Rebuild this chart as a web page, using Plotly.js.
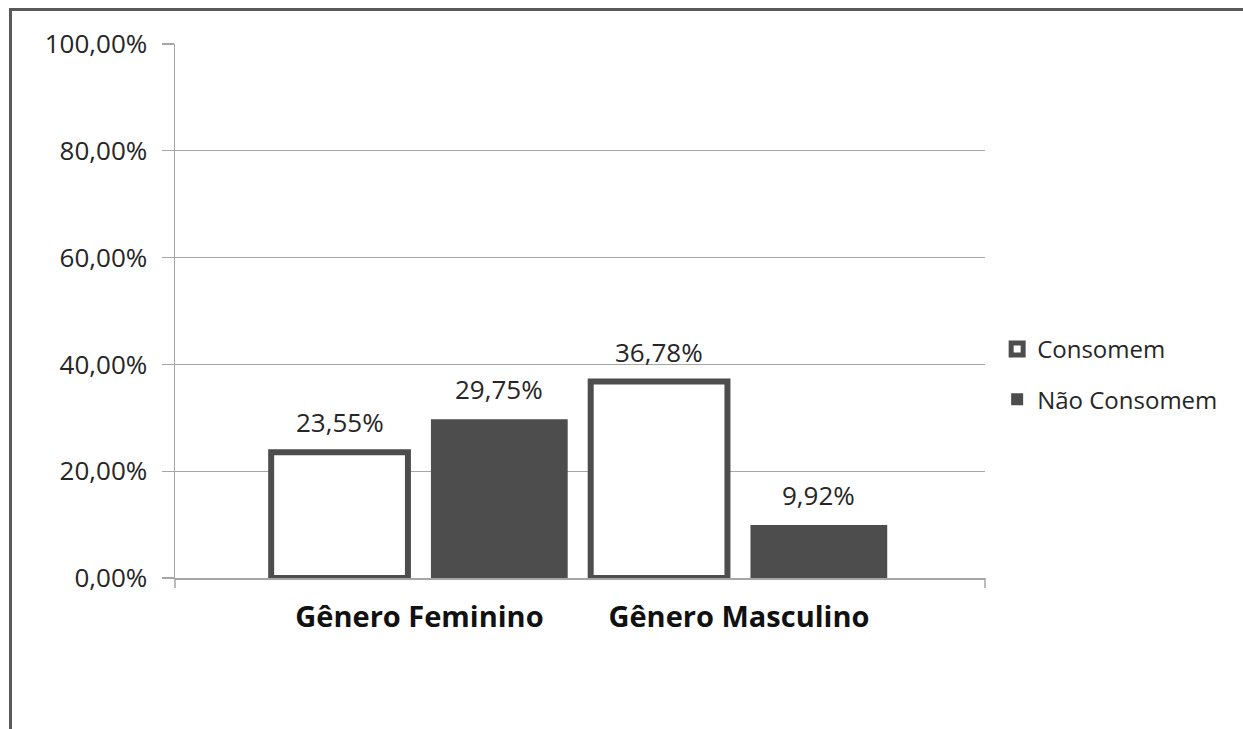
<!DOCTYPE html>
<html>
<head>
<meta charset="utf-8">
<script src="https://cdn.plot.ly/plotly-3.0.1.min.js"></script>
<style>
  html, body { margin: 0; padding: 0; background: #fff; overflow: hidden; }
  #wrap { position: relative; width: 1243px; height: 729px; overflow: hidden; }
  #chart { width: 1243px; height: 729px; }
  #frame { position: absolute; left: 9px; top: 8px; width: 1240px; height: 730px;
           border-left: 3px solid #5a5a5a; border-top: 3px solid #5a5a5a; pointer-events: none; }
</style>
</head>
<body>
<div id="wrap">
  <div id="chart"></div>
  <div id="frame"></div>
</div>
<script>
const categories = ['Gênero Feminino', 'Gênero Masculino'];
const seriesNames = ['Consomem', 'Não Consomem'];
const consomem = [23.55, 36.78];
const naoConsomem = [29.75, 9.92];
const yTicks = [0, 20, 40, 60, 80, 100];

const FONT = '"Open Sans", "Liberation Sans", sans-serif';
const DARK = '#4d4d4d';
const GRID = '#a6a6a6';
const fmt = v => v.toFixed(2).replace('.', ',') + '%';

const traces = [
  {
    type: 'bar', name: seriesNames[0], x: categories, y: consomem,
    legendgroup: 'a',
    marker: { color: '#ffffff', line: { color: DARK, width: 6 } },
    hoverinfo: 'none'
  },
  {
    type: 'bar', name: seriesNames[1], x: categories, y: naoConsomem,
    legendgroup: 'b',
    marker: { color: DARK, line: { width: 0 } },
    hoverinfo: 'none'
  }
];

// data labels placed through the axis scales (bar centre = category index +/- quarter slot)
const annotations = [];
[consomem, naoConsomem].forEach((vals, s) => {
  vals.forEach((v, i) => {
    annotations.push({
      xref: 'x', yref: 'y', x: i + (s === 0 ? -0.25 : 0.25), y: v,
      text: fmt(v), showarrow: false, yanchor: 'bottom', yshift: 10,
      font: { family: FONT, size: 26, color: '#262626' }
    });
  });
});

const layout = {
  width: 1243, height: 729,
  margin: { l: 175, r: 258, t: 44, b: 151, pad: 0 },
  paper_bgcolor: '#ffffff', plot_bgcolor: '#ffffff',
  font: { family: FONT, color: '#262626', size: 25 },
  barmode: 'group', bargap: 0, bargroupgap: 0.144,
  showlegend: true,
  legend: {
    x: 1.015, xanchor: 'left', y: 0.47, yanchor: 'top',
    font: { family: FONT, size: 24, color: '#262626' },
    traceorder: 'grouped', tracegroupgap: 16,
    bgcolor: 'rgba(0,0,0,0)'
  },
  xaxis: {
    type: 'category', range: [-0.765, 1.77],
    showline: true, linecolor: GRID, linewidth: 2,
    ticks: '', showgrid: false, zeroline: false,
    tickfont: { family: FONT, size: 29, color: '#111111', weight: 'bold' },
    ticklabelstandoff: 12
  },
  yaxis: {
    range: [0, 100], tickmode: 'array', tickvals: yTicks, ticktext: yTicks.map(fmt),
    showline: true, linecolor: GRID, linewidth: 1.5,
    showgrid: true, gridcolor: GRID, gridwidth: 1.2,
    ticks: 'outside', ticklen: 12, tickcolor: GRID, tickwidth: 1.2,
    zeroline: false,
    tickfont: { family: FONT, size: 26, color: '#262626' },
    ticklabelstandoff: 9
  },
  annotations: annotations,
  shapes: [
    { type: 'line', xref: 'paper', yref: 'paper', x0: 0, x1: 0, y0: 0, y1: -10/534,
      line: { color: GRID, width: 1.5 } },
    { type: 'line', xref: 'paper', yref: 'paper', x0: 1, x1: 1, y0: 0, y1: -10/534,
      line: { color: GRID, width: 1.5 } }
  ]
};

Plotly.newPlot('chart', traces, layout, { displayModeBar: false, staticPlot: true });
</script>
</body>
</html>
